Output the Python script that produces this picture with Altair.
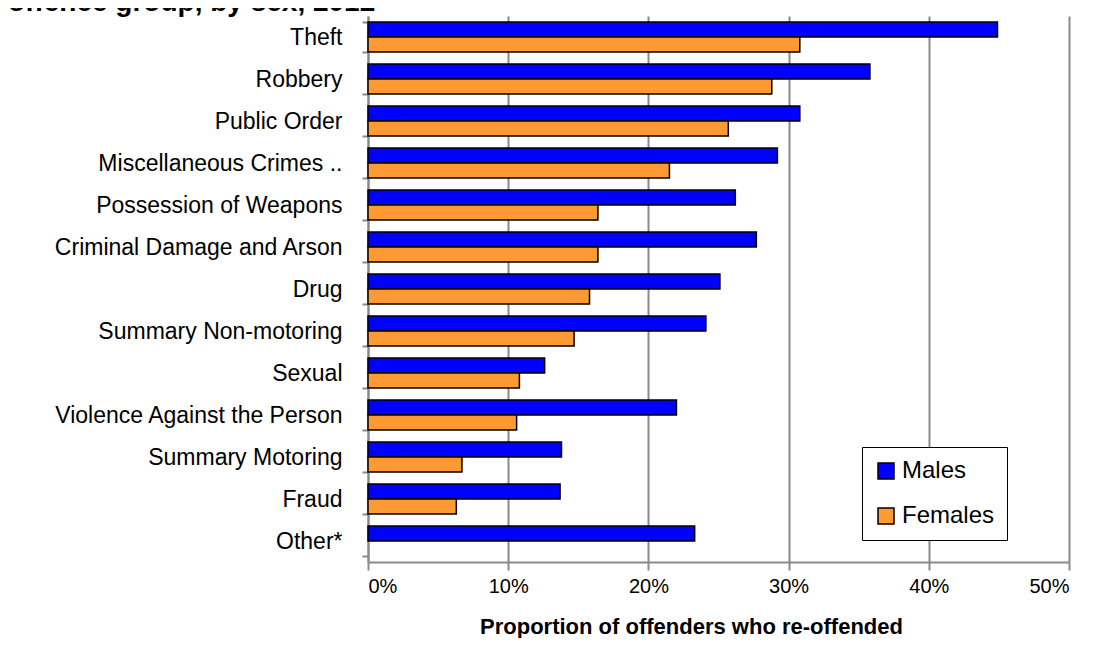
import altair as alt
import pandas as pd

categories = [
    "Theft", "Robbery", "Public Order", "Miscellaneous Crimes ..",
    "Possession of Weapons", "Criminal Damage and Arson", "Drug",
    "Summary Non-motoring", "Sexual", "Violence Against the Person",
    "Summary Motoring", "Fraud", "Other*",
]
males = [0.449, 0.358, 0.308, 0.292, 0.262, 0.277, 0.251, 0.241, 0.126, 0.220, 0.138, 0.137, 0.233]
females = [0.308, 0.288, 0.257, 0.215, 0.164, 0.164, 0.158, 0.147, 0.108, 0.106, 0.067, 0.063, None]
series = ["Males", "Females"]
colors = ["#0000FF", "#FF9933"]
x_ticks = [0, 0.1, 0.2, 0.3, 0.4, 0.5]
x_title = "Proportion of offenders  who re-offended"
title_fragment = "offence group, by sex, 2012"

rows = []
for cat, m, f in zip(categories, males, females):
    rows.append({"Offence": cat, "Sex": "Males", "Value": m})
    if f is not None:
        rows.append({"Offence": cat, "Sex": "Females", "Value": f})
df = pd.DataFrame(rows)

FONT = "Liberation Sans"
GRAY = "#8a8a8a"

bars = alt.Chart(df).mark_bar(stroke="black", strokeWidth=1.5).encode(
    y=alt.Y(
        "Offence:N",
        sort=categories,
        scale=alt.Scale(domain=categories, paddingInner=0.28, paddingOuter=0.14),
        axis=alt.Axis(
            title=None, tickBand="extent", labelFontSize=23, labelFont=FONT,
            labelColor="black", labelPadding=20, tickSize=6, tickColor=GRAY,
            tickWidth=2, domainColor=GRAY, domainWidth=2, grid=False,
            labelLimit=400,
        ),
    ),
    yOffset=alt.YOffset("Sex:N", sort=series, scale=alt.Scale(domain=series, paddingInner=0)),
    x=alt.X(
        "Value:Q",
        scale=alt.Scale(domain=[0, 0.5], nice=False),
        axis=alt.Axis(
            title=x_title, format="%", values=x_ticks, labelFontSize=20,
            labelFont=FONT, labelColor="black", labelPadding=6, tickSize=8,
            tickColor=GRAY, tickWidth=2, domainColor=GRAY, domainWidth=2,
            grid=True, gridColor=GRAY, gridWidth=2, titleFont=FONT,
            titleFontSize=22, titleFontWeight="bold", titleColor="black",
            titlePadding=20, titleX=323, titleAlign="center",
        ),
    ),
    color=alt.Color(
        "Sex:N",
        sort=series,
        scale=alt.Scale(domain=series, range=colors),
        legend=alt.Legend(
            title=None, orient="none", legendX=494, legendY=431,
            strokeColor="black", fillColor="white", padding=12,
            labelFontSize=24, labelFont=FONT, labelColor="black",
            symbolType="square", symbolSize=256, symbolStrokeColor="black",
            symbolStrokeWidth=1.5, rowPadding=21, labelOffset=4,
        ),
    ),
)

title_text = alt.Chart(pd.DataFrame({"t": [title_fragment]})).mark_text(
    align="left", baseline="alphabetic", fontWeight="bold", fontSize=28,
    font=FONT, color="black",
).encode(text="t:N", x=alt.value(-360), y=alt.value(-5))

chart = alt.layer(bars, title_text).properties(
    width=701, height=546,
    padding={"left": 360, "top": 8, "right": 20, "bottom": 76},
    autosize="none",
).configure_view(strokeWidth=0)

chart.save("out.html", embed_options={"renderer": "svg", "actions": False})
